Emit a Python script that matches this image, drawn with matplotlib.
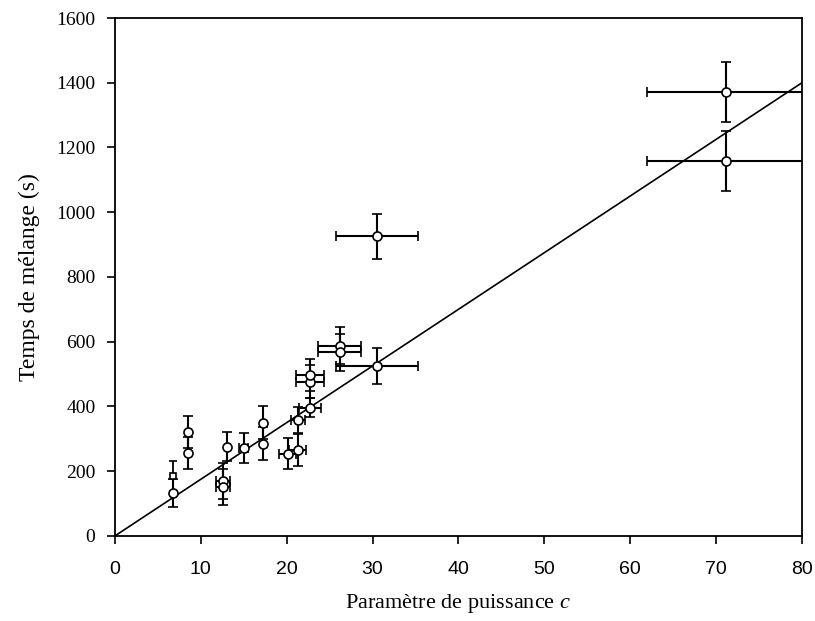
#!/usr/bin/env python3
"""
Temps de melange vs parametre de puissance c
"""
import numpy as np
import matplotlib
matplotlib.use('Agg')
import matplotlib.pyplot as plt

# open circles: x, y, x error, y error
c_vals = [6.8, 8.5, 8.5, 12.6, 12.6, 13.1, 15.0, 17.2, 17.2, 20.1, 21.3,
          21.3, 22.7, 22.7, 22.7, 26.2, 26.2, 30.5, 30.5, 71.2, 71.2]
t_vals = [133, 322, 257, 170, 152, 276, 272, 350, 285, 254, 266,
          359, 396, 477, 498, 588, 567, 526, 926, 1371, 1158]
c_err = [0, 0, 0, 0.8, 0.8, 0, 0.5, 0, 0, 1.0, 1.0,
         0.8, 1.3, 1.6, 1.6, 2.5, 2.5, 4.8, 4.8, 9.3, 9.3]
t_err = [43, 50, 50, 55, 55, 45, 47, 50, 50, 48, 50,
         40, 30, 50, 50, 58, 58, 56, 70, 93, 93]

# open square
sq_c = [6.8]
sq_t = [186]
sq_err = [46]

slope = 17.5  # fitted line through origin

plt.rcParams['mathtext.fontset'] = 'custom'
plt.rcParams['mathtext.it'] = 'Liberation Serif:italic'
plt.rcParams['mathtext.rm'] = 'Liberation Serif'


def main():
  fig = plt.figure(figsize=(8.15, 6.21), dpi=100)
  ax = fig.add_axes([0.141, 0.137, 0.843, 0.834])

  xs = np.array([0, 80])
  ax.plot(xs, slope * xs, color='black', lw=1.2, zorder=1)

  ax.errorbar(c_vals, t_vals, xerr=c_err, yerr=t_err, fmt='o', ms=6.5,
              mfc='white', mec='black', mew=1.2, ecolor='black',
              elinewidth=1.5, capsize=3.5, capthick=1.5, zorder=3)
  ax.errorbar(sq_c, sq_t, yerr=sq_err, fmt='s', ms=5, mfc='white',
              mec='black', mew=1.2, ecolor='black', elinewidth=1.3,
              capsize=3, capthick=1.3, zorder=3)

  ax.set_xlim(0, 80)
  ax.set_ylim(0, 1600)
  ax.set_xticks(range(0, 81, 10))
  ax.set_yticks(range(0, 1601, 200))
  ax.tick_params(axis='x', direction='out', length=6, width=1.2, pad=12)
  ax.tick_params(axis='y', direction='out', length=6, width=1.2, pad=8)
  for lab in ax.get_xticklabels():
    lab.set_fontfamily('Liberation Sans')
    lab.set_fontsize(14)
  for lab in ax.get_yticklabels():
    lab.set_fontfamily('Liberation Serif')
    lab.set_fontsize(14)
  for s in ax.spines.values():
    s.set_linewidth(1.3)

  ax.set_xlabel('Paramètre de puissance $c$', family='Liberation Serif',
                fontsize=16, labelpad=10)
  ax.set_ylabel('Temps de mélange (s)', family='Liberation Serif', fontsize=17,
                labelpad=12)

  fig.savefig('out.png', dpi=100)


if __name__ == '__main__':
  main()
